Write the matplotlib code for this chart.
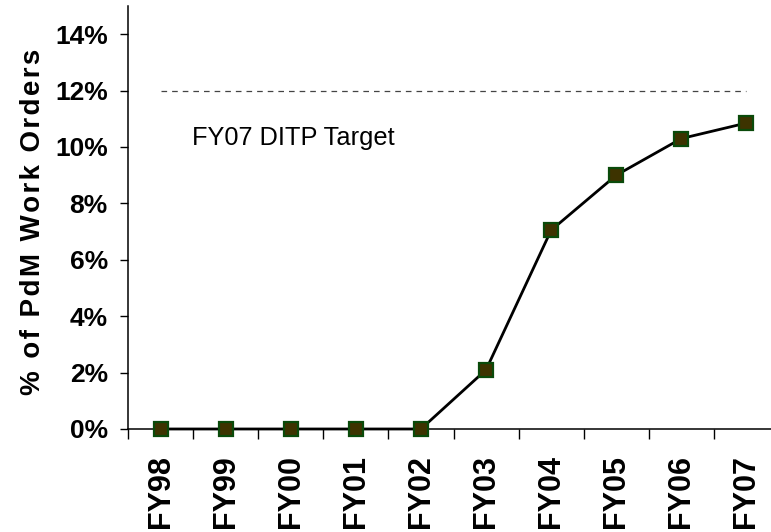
import matplotlib
matplotlib.use("Agg")
import matplotlib.pyplot as plt

categories = ["FY98", "FY99", "FY00", "FY01", "FY02", "FY03", "FY04", "FY05", "FY06", "FY07"]
values = [0.0, 0.0, 0.0, 0.0, 0.0, 2.1, 7.05, 9.0, 10.3, 10.85]
target_value = 12.0
target_label = "FY07 DITP Target"
y_ticks = [0, 2, 4, 6, 8, 10, 12, 14]
y_label = "% of PdM Work Orders"

fam = ["Liberation Sans", "DejaVu Sans"]

W, H = 771, 532
fig = plt.figure(figsize=(W / 100, H / 100), dpi=100)
x0, x1, yb, yt = 128, 779, 429, 6
ax = fig.add_axes([x0 / W, (H - yb) / H, (x1 - x0) / W, (yb - yt) / H])

xs = list(range(len(categories)))
ax.plot(xs, values, color="black", lw=2.0, marker="s", ms=9.5,
        mfc="#3d3300", mec="#0a4a0a", mew=1.6, zorder=5, clip_on=False)
ax.plot([xs[0], xs[-1]], [target_value, target_value], color="#444444",
        lw=0.9, dashes=(4.5, 4.0), zorder=2)
ax.text(0.48, 10.07, target_label, fontsize=18.3, family=fam,
        ha="left", va="baseline")

ax.set_xlim(-0.5, len(categories) - 0.5)
ax.set_ylim(0, 15)
for s in ["top", "right"]:
    ax.spines[s].set_visible(False)
for s in ["left", "bottom"]:
    ax.spines[s].set_linewidth(1.1)
    ax.spines[s].set_color("black")

ax.set_yticks(y_ticks)
ax.set_yticklabels([f"{v}%" for v in y_ticks], fontsize=19,
                   fontweight="bold", family=fam)
ax.tick_params(axis="y", direction="out", length=6, width=1, pad=8.5)

ax.set_xticks([i - 0.5 for i in range(len(categories) + 1)])
ax.set_xticklabels([])
ax.tick_params(axis="x", which="major", direction="out", length=7, width=1)
ax.set_xticks(xs, minor=True)
ax.set_xticklabels(categories, minor=True, rotation=90, fontsize=22,
                   fontweight="bold", family=fam, va="top", ha="center")
ax.tick_params(axis="x", which="minor", length=0, pad=19)

spaced = "\u200a".join(y_label)
fig.text(33 / W, 1 - 222 / H, spaced, rotation=90, fontsize=20,
         fontweight="bold", family=fam, ha="center", va="center")

fig.savefig("out.png", dpi=100)
